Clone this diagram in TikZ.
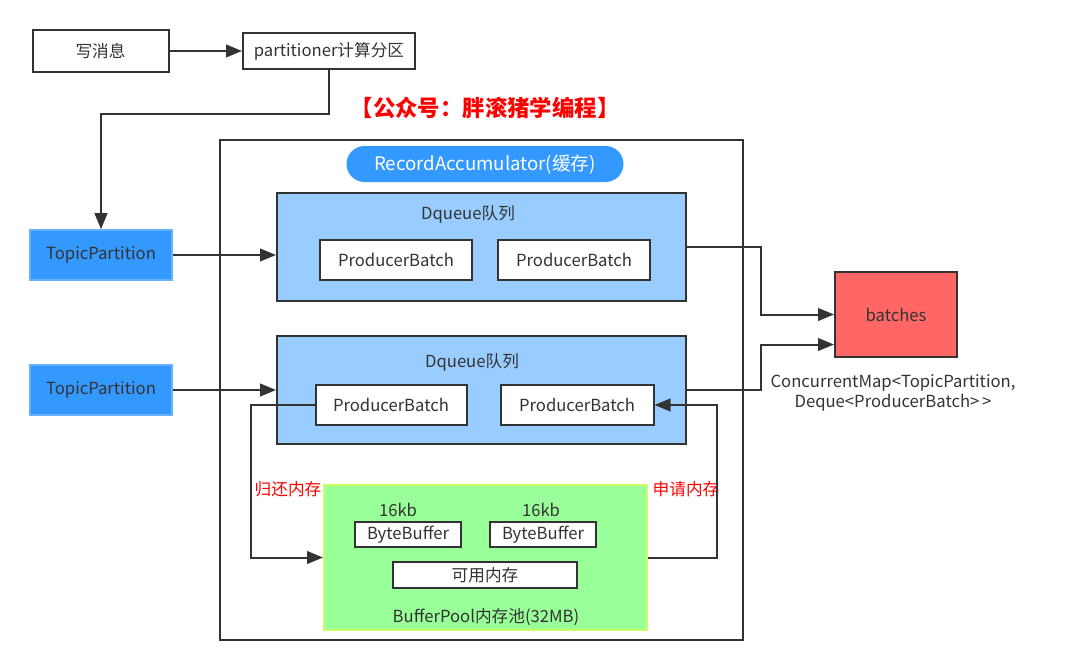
\documentclass[tikz,border=0pt]{standalone}
\usepackage{fontspec}
\setmainfont{Noto Sans CJK SC}
\usepackage{tikz}
\usetikzlibrary{arrows.meta,positioning,calc}
\definecolor{dkline}{RGB}{51,51,51}
\definecolor{tpblue}{RGB}{51,153,255}
\definecolor{tpedge}{RGB}{102,178,255}
\definecolor{dqblue}{RGB}{153,204,255}
\definecolor{poolgreen}{RGB}{153,255,153}
\definecolor{pooledge}{RGB}{204,255,102}
\definecolor{batchred}{RGB}{255,102,102}
\definecolor{notered}{RGB}{255,0,0}

\begin{document}
\begin{tikzpicture}[x=0.75pt,y=-0.75pt,
  every node/.style={font=\fontsize{12.5}{15}\selectfont,text=dkline},
  box/.style={draw=dkline,line width=1.5pt,fill=white,inner sep=0pt},
  tpbox/.style={draw=tpedge,line width=1.2pt,fill=tpblue,inner sep=0pt,
        minimum width=106.5pt,minimum height=37.5pt},
  dqbox/.style={draw=dkline,line width=1.5pt,fill=dqblue,
        minimum width=306.75pt,minimum height=81pt},
  pbatch/.style={box,minimum height=30pt},
  bbuf/.style={box,minimum width=79.5pt,minimum height=18.75pt},
  conn/.style={draw=dkline,line width=1.5pt},
  flow/.style={conn,-{Triangle[length=12pt,width=9.5pt]}},
  redlbl/.style={text=notered}]
  \useasboundingbox (0,0) rectangle (1080,671);
  % Producer side
  \node[box,minimum width=102pt,minimum height=31.5pt] (msg) at (100.5,51) {写消息};
  \node[box,minimum width=129pt,minimum height=27pt] (part) at (329,51) {partitioner计算分区};
  \node[font=\fontsize{16.8}{20}\selectfont\bfseries,text=notered] (title) at (485,108)
        {【公众号：胖滚猪学编程】};
  \node[tpbox] (tp1) at (101,255) {TopicPartition};
  \node[tpbox] (tp2) at (101,390) {TopicPartition};
  % RecordAccumulator
  \node[draw=dkline,line width=1.5pt,minimum width=392.25pt,minimum height=375pt]
        (acc) at (481.5,390) {};
  \node[fill=tpblue,rounded corners=13.5pt,minimum width=207.75pt,minimum height=27pt,
        text=white,font=\fontsize{14}{16}\selectfont] (rec) at (485,164) {RecordAccumulator(缓存)};
  \node[dqbox] (dq1) at (481.5,247) {};
  \node (dq1lbl) at (468,214) {Dqueue队列};
  \node[pbatch,minimum width=114pt] (pb1) at (396,260) {ProducerBatch};
  \node[pbatch,minimum width=114pt] (pb2) at (574,260) {ProducerBatch};
  \node[dqbox] (dq2) at (481.5,390) {};
  \node (dq2lbl) at (472,362) {Dqueue队列};
  \node[pbatch,minimum width=113.25pt] (pb3) at (391,405) {ProducerBatch};
  \node[pbatch,minimum width=114.75pt] (pb4) at (577,405) {ProducerBatch};
  % BufferPool
  \node[draw=pooledge,line width=1.5pt,fill=poolgreen,minimum width=242.25pt,
        minimum height=108.75pt] (pool) at (485.5,557.5) {};
  \node (kb1) at (398,510) {16kb};
  \node (kb2) at (541,510) {16kb};
  \node[bbuf] (bb1) at (408,534.5) {ByteBuffer};
  \node[bbuf] (bb2) at (543,534.5) {ByteBuffer};
  \node[box,minimum width=138pt,minimum height=19.5pt] (free) at (485,575) {可用内存};
  \node (poollbl) at (486,617) {BufferPool内存池(32MB)};
  \node[redlbl] (back) at (288,489) {归还内存};
  \node[redlbl] (ask) at (686,489) {申请内存};
  % batches map
  \node[draw=dkline,line width=1.5pt,fill=batchred,minimum width=91.5pt,
        minimum height=63.75pt] (batches) at (896,314.5) {batches};
  \node[align=center,font=\fontsize{12.5}{15.5}\selectfont] (maplbl) at (893,393)
        {ConcurrentMap{<}TopicPartition,\\Deque{<}ProducerBatch{>}\,{>}};
  % Arrows
  \coordinate (turn) at (329,114);
  \draw[flow] (msg.east) -- (part.west);
  \draw[flow] (part.south) -- (turn) -| (tp1.north);
  \draw[flow] (tp1.east) -- (tp1.east -| dq1.west);
  \draw[flow] (tp2.east) -- (tp2.east -| dq2.west);
  \draw[flow] (dq1.east) -- ++(74,0) |- (batches.west);
  \draw[flow] (dq2.east) -- ++(74,0) |- ($(batches.west)+(0,30)$);
  \draw[flow] (pb3.west) -- ++(-64,0) |- (pool.west);
  \draw[flow] (pool.east) -- ++(69,0) |- (pb4.east);
\end{tikzpicture}
\end{document}
